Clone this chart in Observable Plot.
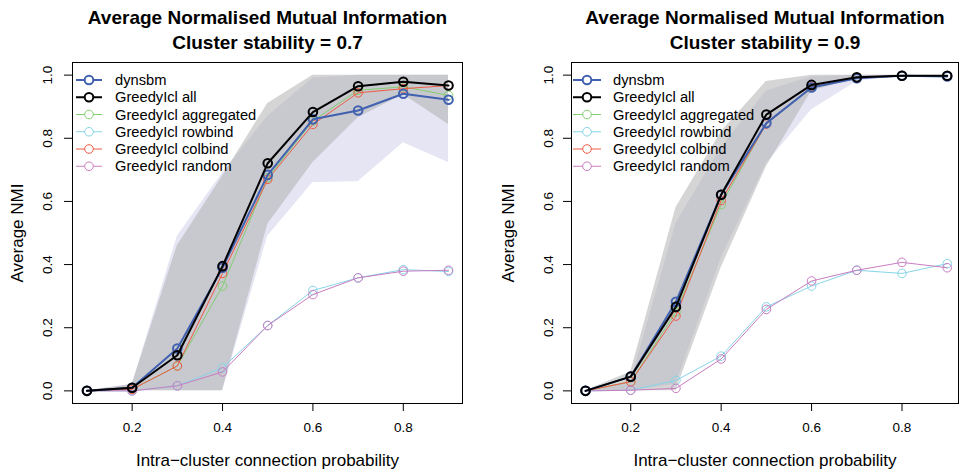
<!DOCTYPE html>
<html><head><meta charset="utf-8">
<script src="https://cdn.jsdelivr.net/npm/d3@7"></script>
<script src="https://cdn.jsdelivr.net/npm/@observablehq/plot@0.6"></script>
<style>
body{margin:0;background:#fff;font-family:"Liberation Sans",Arial,sans-serif}
#wrap{display:flex;width:964px;height:471px}
.panel{position:relative;width:482px;height:471px}
.panel svg.lg{position:absolute;left:0;top:0;pointer-events:none}
</style></head><body><div id="wrap"></div>
<script>
// ---------- data ----------
const probs = [0.1, 0.2, 0.3, 0.4, 0.5, 0.6, 0.7, 0.8, 0.9];
const xTicks = [0.2, 0.4, 0.6, 0.8];
const yTicks = [0.0, 0.2, 0.4, 0.6, 0.8, 1.0];
const seriesNames = ["dynsbm", "GreedyIcl all", "GreedyIcl aggregated", "GreedyIcl rowbind", "GreedyIcl colbind", "GreedyIcl random"];
const seriesColors = ["#4060b0", "#000000", "#82cf70", "#86d5e8", "#ef5a45", "#c87dc1"];
const titles = ["Average Normalised Mutual Information"];
const stabilities = ["0.7", "0.9"];

// stability 0.7
const s07_dynsbm     = [0.0, 0.010, 0.134, 0.390, 0.684, 0.860, 0.888, 0.941, 0.922];
const s07_all        = [0.0, 0.010, 0.113, 0.395, 0.721, 0.883, 0.965, 0.979, 0.967];
const s07_aggregated = [0.0, 0.005, 0.079, 0.332, 0.675, 0.855, 0.952, 0.963, 0.936];
const s07_rowbind    = [0.0, 0.000, 0.016, 0.073, 0.207, 0.318, 0.358, 0.384, 0.378];
const s07_colbind    = [0.0, 0.005, 0.079, 0.372, 0.670, 0.844, 0.944, 0.957, 0.967];
const s07_random     = [0.0, 0.000, 0.016, 0.060, 0.207, 0.305, 0.358, 0.379, 0.382];
const s07_dynsbmLo   = [0.0, 0.0, 0.0, 0.0, 0.49, 0.66, 0.662, 0.786, 0.723];
const s07_dynsbmHi   = [0.0, 0.02, 0.49, 0.69, 0.87, 0.99, 1.0, 1.0, 1.0];
const s07_allLo      = [0.0, 0.0, 0.0, 0.0, 0.528, 0.723, 0.865, 0.939, 0.844];
const s07_allHi      = [0.0, 0.02, 0.46, 0.68, 0.91, 1.0, 1.0, 1.0, 1.0];

// stability 0.9
const s09_dynsbm     = [0.0, 0.045, 0.282, 0.621, 0.848, 0.961, 0.990, 0.998, 0.996];
const s09_all        = [0.0, 0.045, 0.266, 0.621, 0.875, 0.969, 0.993, 0.998, 0.998];
const s09_aggregated = [0.0, 0.029, 0.250, 0.590, 0.847, 0.960, 0.990, 0.998, 0.998];
const s09_rowbind    = [0.0, 0.002, 0.033, 0.110, 0.266, 0.332, 0.382, 0.372, 0.403];
const s09_colbind    = [0.0, 0.029, 0.237, 0.603, 0.845, 0.963, 0.990, 0.998, 0.998];
const s09_random     = [0.0, 0.002, 0.008, 0.101, 0.258, 0.348, 0.382, 0.407, 0.390];
const s09_dynsbmLo   = [0.0, 0.0, 0.02, 0.42, 0.72, 0.89, 0.98, 1.0, 1.0];
const s09_dynsbmHi   = [0.0, 0.03, 0.53, 0.77, 0.95, 0.995, 1.0, 1.0, 1.0];
const s09_allLo      = [0.0, 0.0, 0.0, 0.39, 0.71, 0.95, 0.99, 1.0, 1.0];
const s09_allHi      = [0.0, 0.06, 0.58, 0.82, 0.98, 1.0, 1.0, 1.0, 1.0];

const panels = [
  {stab: stabilities[0], series: [s07_dynsbm, s07_all, s07_aggregated, s07_rowbind, s07_colbind, s07_random],
   bandA: [s07_dynsbmLo, s07_dynsbmHi], bandB: [s07_allLo, s07_allHi],
   ml: 72, mr: 20, xdom: [0.068, 0.931], ylabDx: -55, ytlDx: -25, lg: {x1: 76, x2: 102, cx: 89, tx: 115}},
  {stab: stabilities[1], series: [s09_dynsbm, s09_all, s09_aggregated, s09_rowbind, s09_colbind, s09_random],
   bandA: [s09_dynsbmLo, s09_dynsbmHi], bandB: [s09_allLo, s09_allHi],
   ml: 89, mr: 6, xdom: [0.069, 0.925], ylabDx: -63, ytlDx: -23, lg: {x1: 91, x2: 119, cx: 105, tx: 131}}
];

const drawOrder = [2, 3, 4, 5, 0, 1];
const FONT = "Liberation Sans, Arial, sans-serif";

for (const p of panels) {
  const band = (lh) => probs.map((x, i) => ({x, lo: lh[0][i], hi: lh[1][i]}));
  const marks = [
    Plot.areaY(band(p.bandA), {x: "x", y1: "lo", y2: "hi", fill: "#e5e5f3"}),
    Plot.areaY(band(p.bandB), {x: "x", y1: "lo", y2: "hi", fill: "#ababab", fillOpacity: 0.5}),
  ];
  for (const k of drawOrder) {
    const d = probs.map((x, i) => ({x, y: p.series[k][i]}));
    const w = k < 2 ? 2 : 1;
    marks.push(Plot.line(d, {x: "x", y: "y", stroke: seriesColors[k], strokeWidth: w}));
    marks.push(Plot.dot(d, {x: "x", y: "y", r: 4.3, stroke: seriesColors[k], strokeWidth: w, fill: "none"}));
  }
  marks.push(
    Plot.frame({stroke: "#000", strokeWidth: 1}),
    Plot.axisX({ticks: xTicks, tickSize: 8, tickPadding: 11, fontSize: 13.5, tickFormat: d3.format(".1f")}),
    Plot.axisY({ticks: yTicks, tickSize: 8, tickFormat: () => ""}),
    Plot.text(yTicks, {y: d => d, text: d => d.toFixed(1), frameAnchor: "left", dx: p.ytlDx, rotate: -90,
      textAnchor: "middle", lineAnchor: "middle", fontSize: 13.5}),
    Plot.text(["Average NMI"], {frameAnchor: "left", dx: p.ylabDx, rotate: -90, textAnchor: "middle",
      lineAnchor: "middle", fontSize: 17}),
    Plot.text(["Intra\u2212cluster connection probability"], {frameAnchor: "bottom", dy: 57, textAnchor: "middle",
      lineAnchor: "middle", fontSize: 17}),
    Plot.text(titles, {frameAnchor: "top", dy: -45, textAnchor: "middle", lineAnchor: "middle", fontSize: 19, fontWeight: "bold"}),
    Plot.text(["Cluster stability = " + p.stab], {frameAnchor: "top", dy: -20, textAnchor: "middle", lineAnchor: "middle", fontSize: 19, fontWeight: "bold"})
  );
  const chart = Plot.plot({
    width: 482, height: 471,
    marginLeft: p.ml, marginRight: p.mr, marginTop: 62, marginBottom: 68,
    x: {domain: p.xdom, label: null},
    y: {domain: [-0.04, 1.04], label: null},
    style: {fontFamily: FONT, fontSize: "13.5px", background: "white", overflow: "visible"},
    marks
  });
  const div = document.createElement("div");
  div.className = "panel";
  div.appendChild(chart);
  // legend overlay
  const lg = d3.select(div).append("svg").attr("class", "lg").attr("width", 482).attr("height", 200);
  seriesNames.forEach((name, i) => {
    const y = 80 + i * 17.25;
    const w = i < 2 ? 2 : 1;
    lg.append("line").attr("x1", p.lg.x1).attr("x2", p.lg.x2).attr("y1", y).attr("y2", y)
      .attr("stroke", seriesColors[i]).attr("stroke-width", w);
    lg.append("circle").attr("cx", p.lg.cx).attr("cy", y).attr("r", 4.3)
      .attr("fill", "white").attr("stroke", seriesColors[i]).attr("stroke-width", w);
    lg.append("text").attr("x", p.lg.tx).attr("y", y).attr("dy", "0.35em")
      .attr("font-family", FONT).attr("font-size", 14.7).attr("fill", "#000").text(name);
  });
  document.getElementById("wrap").appendChild(div);
}
</script></body></html>
